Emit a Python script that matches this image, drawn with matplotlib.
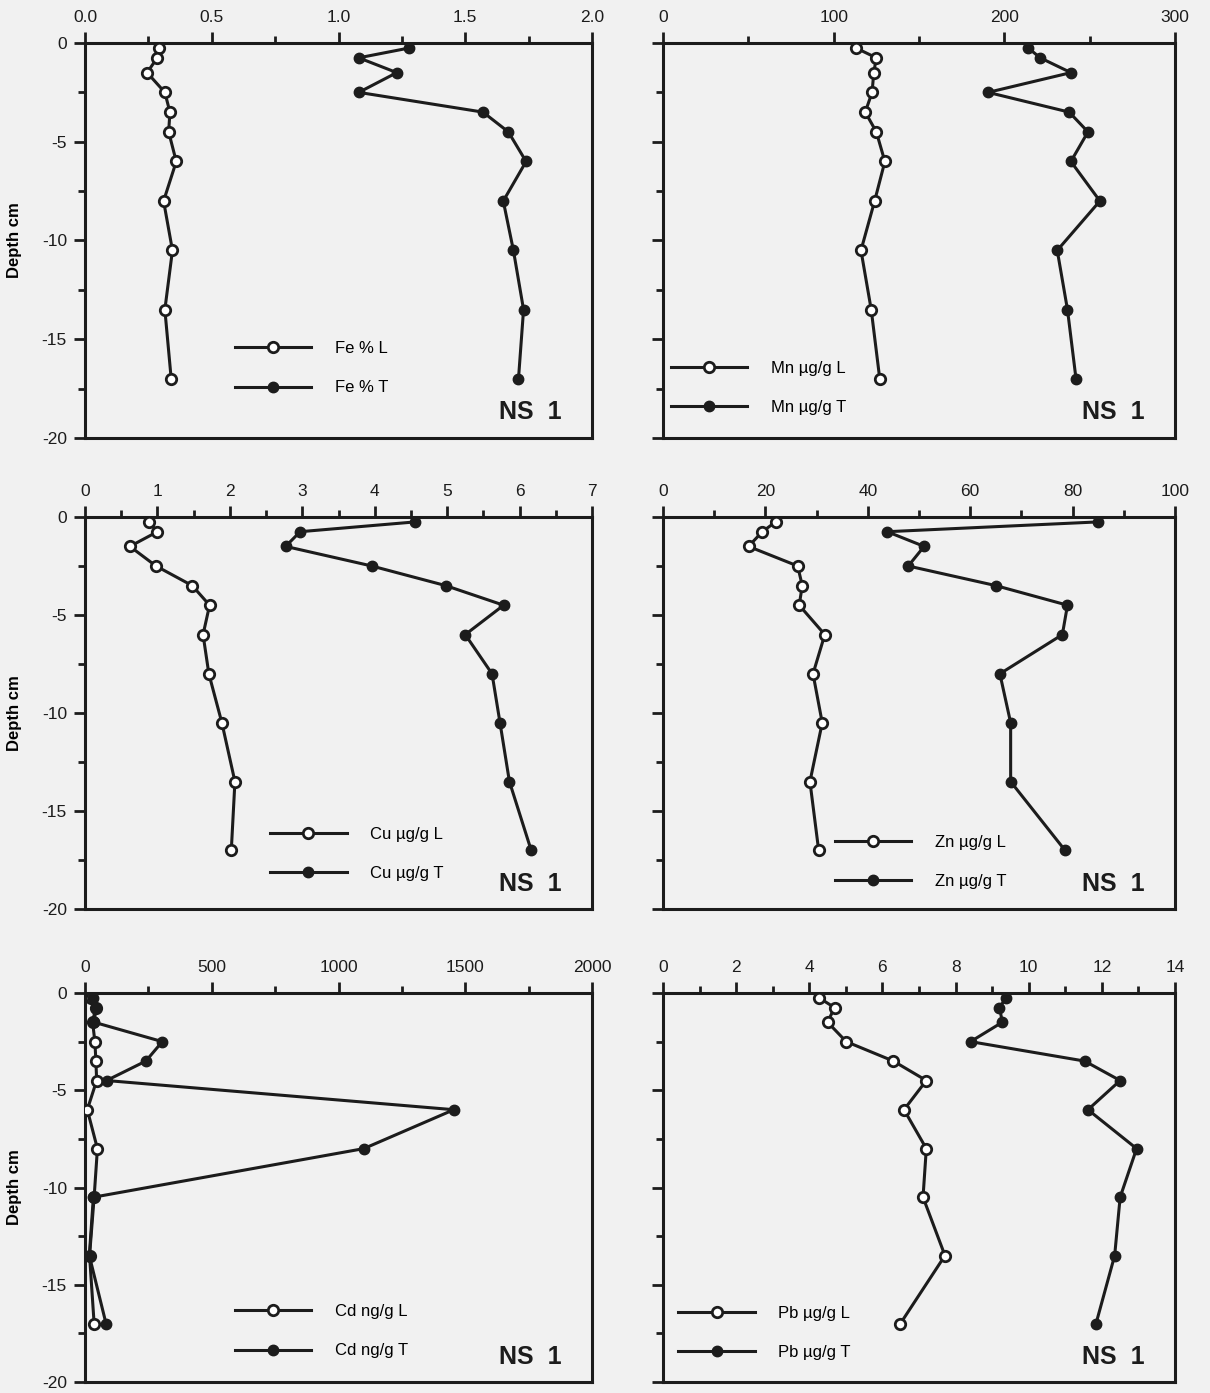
import matplotlib
matplotlib.use("Agg")
import matplotlib.pyplot as plt
from matplotlib.ticker import MultipleLocator
from matplotlib.lines import Line2D

plt.rcParams['font.family'] = ['Liberation Sans', 'DejaVu Sans']
plt.rcParams['axes.unicode_minus'] = False

# sample depths (cm), same for every profile
depth = [-0.25, -0.75, -1.5, -2.5, -3.5, -4.5, -6, -8, -10.5, -13.5, -17]

fe_l = [0.29, 0.285, 0.245, 0.315, 0.335, 0.33, 0.36, 0.31, 0.345, 0.315, 0.34]
fe_t = [1.28, 1.08, 1.23, 1.08, 1.57, 1.67, 1.74, 1.65, 1.69, 1.73, 1.71]

mn_l = [113, 125, 123.5, 122.5, 118.5, 125, 130, 124, 116, 122, 127]
mn_t = [214, 221, 239, 190.5, 238, 249, 239, 256, 231, 237, 242]

cu_l = [0.88, 1.0, 0.62, 0.98, 1.48, 1.72, 1.63, 1.71, 1.89, 2.07, 2.02]
cu_t = [4.56, 2.97, 2.77, 3.96, 4.98, 5.78, 5.25, 5.62, 5.73, 5.86, 6.16]

zn_l = [22, 19.4, 16.7, 26.3, 27.2, 26.6, 31.6, 29.3, 31.1, 28.7, 30.4]
zn_t = [85, 43.8, 51, 47.9, 65, 79, 78, 65.8, 67.9, 67.9, 78.5]

cd_l = [22, 42, 30, 39, 43, 46, 9, 49, 36, 18, 36]
cd_t = [30, 45, 35, 305, 240, 85, 1455, 1100, 33, 17, 83]

pb_l = [4.27, 4.69, 4.5, 5.01, 6.3, 7.2, 6.59, 7.2, 7.11, 7.71, 6.49]
pb_t = [9.38, 9.2, 9.28, 8.41, 11.53, 12.5, 11.62, 12.95, 12.5, 12.35, 11.84]

# name, L values, T values, x max, major step, minor step, label format, legend (x, y) in axes units
panels = [
    ("Fe % ", fe_l, fe_t, 2.0, 0.5, 0.25, "{:.1f}", (0.295, 0.245)),
    ("Mn µg/g ", mn_l, mn_t, 300, 100, 50, "{:.0f}", (0.015, 0.195)),
    ("Cu µg/g ", cu_l, cu_t, 7, 1, 0.5, "{:.0f}", (0.365, 0.21)),
    ("Zn µg/g ", zn_l, zn_t, 100, 20, 10, "{:.0f}", (0.335, 0.19)),
    ("Cd ng/g ", cd_l, cd_t, 2000, 500, 250, "{:.0f}", (0.295, 0.2)),
    ("Pb µg/g ", pb_l, pb_t, 14, 2, 1, "{:.0f}", (0.03, 0.195)),
]

ink = '#1c1c1c'
paper = '#f1f1f1'

fig = plt.figure(figsize=(12.10, 13.93), dpi=100, facecolor=paper)
col_x = [(85, 507), (663, 512)]
row_y = [(43, 395), (517, 392), (993, 389)]
W, H = 1210, 1393

for i, (name, lv, tv, xmax, major, minor, fmt, leg_pos) in enumerate(panels):
    r, c = divmod(i, 2)
    x0, w = col_x[c]
    y0, h = row_y[r]
    ax = fig.add_axes([x0 / W, 1 - (y0 + h) / H, w / W, h / H])
    ax.set_facecolor(paper)

    ax.plot(lv, depth, '-o', color=ink, lw=2.2, ms=7.5, mfc='white', mec=ink, mew=2.0,
            zorder=3)
    ax.plot(tv, depth, '-o', color=ink, lw=2.2, ms=7.5, mfc=ink, mec=ink, zorder=4)

    ax.set_xlim(0, xmax)
    ax.set_ylim(-20, 0)
    ax.xaxis.tick_top()
    ax.xaxis.set_minor_locator(MultipleLocator(minor))
    ticks = [k * major for k in range(int(round(xmax / major)) + 1)]
    ax.set_xticks(ticks)
    ax.set_xticklabels([fmt.format(t) for t in ticks])
    ax.yaxis.set_minor_locator(MultipleLocator(2.5))
    ax.set_yticks([0, -5, -10, -15, -20])
    if c == 0:
        ax.set_yticklabels(["0", "-5", "-10", "-15", "-20"])
        ax.set_ylabel("Depth cm", fontsize=12, fontweight='bold')
        ax.yaxis.set_label_coords(-0.125, 0.5)
    else:
        ax.set_yticklabels([])

    ax.tick_params(axis='both', which='major', direction='out', length=8, width=2,
                   color=ink, labelsize=12.5, labelcolor=ink, pad=5)
    ax.tick_params(axis='both', which='minor', direction='out', length=5, width=2,
                   color=ink)
    ax.tick_params(axis='x', which='both', top=True, bottom=False)
    ax.tick_params(axis='y', which='both', left=True, right=False)
    for s in ax.spines.values():
        s.set_linewidth(2.2)
        s.set_color(ink)

    handles = [
        Line2D([], [], color=ink, lw=2.2, marker='o', ms=7.5, mfc='white', mec=ink, mew=2.0),
        Line2D([], [], color=ink, lw=2.2, marker='o', ms=7.5, mfc=ink, mec=ink),
    ]
    ax.legend(handles, [name + "L", name + "T"], loc='upper left', bbox_to_anchor=leg_pos,
              frameon=False, handlelength=4.6, handletextpad=1.4, labelspacing=1.45,
              fontsize=12, numpoints=1, borderaxespad=0, borderpad=0)

    ax.text(0.94, 0.065, "NS  1", transform=ax.transAxes, ha='right', va='center',
            fontsize=18, fontweight='bold', color=ink)

fig.savefig("out.png", dpi=100, facecolor=paper)
